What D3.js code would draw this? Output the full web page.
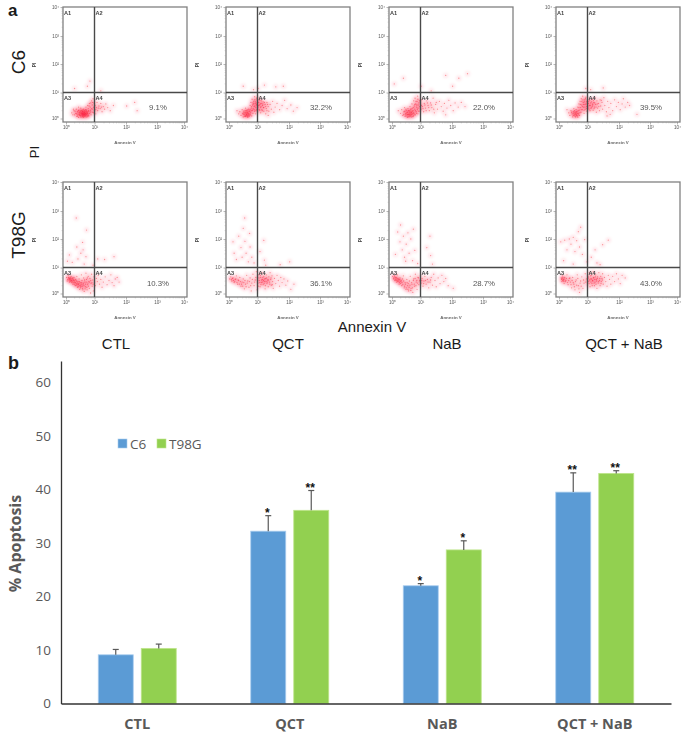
<!DOCTYPE html>
<html>
<head>
<meta charset="utf-8">
<script src="https://cdn.jsdelivr.net/npm/d3@7"></script>
<style>
  html, body { margin: 0; background: #fff; }
  svg { display: block; }
  text { font-family: "Liberation Sans", Arial, sans-serif; }
  .bar-chart text { font-family: "Open Sans", sans-serif; }
</style>
</head>
<body>
<script>
var w = 685, h = 736;

// panel b
var groups = ["CTL", "QCT", "NaB", "QCT + NaB"];
var seriesNames = ["C6", "T98G"];
var c6Values = [9.1, 32.2, 22.0, 39.5];
var t98gValues = [10.3, 36.1, 28.7, 43.0];
var c6Errors = [1.0, 2.9, 0.4, 3.6];
var t98gErrors = [0.8, 3.7, 1.7, 0.5];
var c6Stars = ["", "*", "*", "**"];
var t98gStars = ["", "**", "*", "**"];
var yTicks = [0, 10, 20, 30, 40, 50, 60];

// panel a, events as [log10 annexin, log10 PI]
var c6Ctl = [[.2,.22],[.28,.3],[.3,.14],[.34,.2],[.36,.36],[.38,.08],[.4,.26],[.42,.16],[.44,.04],[.45,.32],[.46,.22],[.48,.12],[.5,.18],[.5,.28],[.52,.06],[.52,.4],[.54,.22],[.55,.14],[.56,.3],[.58,.1],[.58,.2],[.6,.16],[.6,.26],[.62,.04],[.62,.36],[.63,.12],[.64,.22],[.65,.18],[.66,.08],[.67,.28],[.68,.14],[.7,.2],[.7,.44],[.71,.06],[.72,.32],[.74,.12],[.74,.24],[.76,.5],[.77,.18],[.78,.38],[.8,.1],[.8,.28],[.82,.58],[.83,.2],[.85,.44],[.86,.32],[.88,.14],[.9,.68],[.9,.38],[.92,.52],[.94,.24],[.95,.76],[.96,.42],[.98,.6],[1,.32],[1.02,.5],[1.04,.18],[1.06,.42],[1.08,.62],[1.1,.3],[1.14,.48],[1.18,.38],[1.2,.58],[1.24,.26],[1.28,.46],[1.32,.36],[1.36,.56],[1.42,.42],[1.5,.3],[1.6,.5],[2.02,.48],[2.28,.62],[2.36,.3],[.3,1.14],[.75,1.22],[.84,1.4],[1.2,1.06]];
var c6Qct = [[.28,.3],[.34,.18],[.38,.26],[.42,.12],[.46,.34],[.48,.2],[.5,.06],[.52,.28],[.54,.14],[.56,.22],[.58,.4],[.58,.08],[.6,.18],[.62,.3],[.63,.12],[.65,.24],[.66,.04],[.68,.16],[.69,.36],[.7,.2],[.71,.09],[.73,.28],[.74,.5],[.75,.14],[.76,.22],[.77,.62],[.78,.4],[.8,.3],[.8,.1],[.81,.74],[.83,.52],[.84,.2],[.85,.38],[.87,.66],[.88,.46],[.9,.28],[.9,.84],[.92,.58],[.93,.18],[.94,.42],[.95,.72],[.96,.34],[.98,.6],[.98,.5],[1,.26],[1,.8],[1.02,.44],[1.04,.62],[1.05,.34],[1.06,.52],[1.08,.7],[1.1,.22],[1.1,.42],[1.12,.58],[1.14,.34],[1.16,.5],[1.18,.64],[1.2,.28],[1.2,.42],[1.24,.54],[1.26,.18],[1.28,.38],[1.3,.62],[1.34,.46],[1.36,.28],[1.4,.54],[1.44,.36],[1.48,.66],[1.52,.24],[1.56,.44],[1.62,.58],[1.7,.34],[1.78,.5],[1.86,.7],[1.94,.38],[2.06,.52],[2.14,.28],[2.26,.42],[1.34,.12],[.5,1.22],[1.22,1.26],[1.58,1.2],[1.82,1.22],[.86,1.1],[1.02,1.14]];
var c6Nab = [[.22,.3],[.3,.2],[.34,.34],[.38,.12],[.42,.26],[.44,.42],[.46,.08],[.48,.2],[.5,.3],[.52,.14],[.54,.04],[.55,.24],[.56,.38],[.58,.16],[.6,.1],[.6,.3],[.62,.22],[.63,.46],[.65,.14],[.66,.34],[.68,.06],[.68,.24],[.7,.56],[.71,.18],[.72,.4],[.74,.3],[.75,.1],[.76,.68],[.77,.2],[.78,.48],[.8,.36],[.81,.78],[.82,.14],[.83,.56],[.85,.26],[.86,.44],[.88,.66],[.89,.34],[.9,.86],[.91,.18],[.92,.52],[.94,.4],[.96,.7],[.98,.28],[1,.54],[1.02,.36],[1.04,.72],[1.06,.46],[1.1,.26],[1.12,.58],[1.16,.4],[1.2,.68],[1.24,.5],[1.28,.3],[1.32,.6],[1.36,.42],[1.4,.78],[1.44,.22],[1.48,.54],[1.54,.36],[1.6,.66],[1.66,.46],[1.72,.28],[1.76,.58],[1.84,.4],[1.9,.7],[1.96,.5],[2.04,.3],[2.1,.6],[2.2,.44],[2.3,.62],[2.42,.46],[1.8,.14],[.4,1.5],[1.34,1.06],[1.8,1.6],[2.02,1.22],[2.22,1.5],[1.02,1.22],[2.5,1.66],[.08,1.3]];
var c6Both = [[.28,.34],[.34,.22],[.38,.12],[.42,.3],[.46,.18],[.48,.06],[.5,.26],[.52,.38],[.54,.14],[.56,.24],[.58,.06],[.6,.34],[.6,.16],[.63,.26],[.64,.1],[.66,.44],[.68,.2],[.7,.56],[.71,.32],[.72,.12],[.74,.66],[.76,.42],[.77,.24],[.78,.76],[.8,.52],[.82,.34],[.83,.86],[.85,.62],[.86,.44],[.88,.2],[.9,.72],[.91,.54],[.92,.36],[.94,.82],[.96,.64],[.97,.46],[.98,.28],[1,.56],[1,.74],[1.02,.4],[1.04,.66],[1.06,.5],[1.08,.3],[1.1,.6],[1.12,.42],[1.14,.74],[1.16,.52],[1.18,.32],[1.2,.62],[1.22,.44],[1.24,.8],[1.26,.54],[1.28,.24],[1.3,.68],[1.32,.4],[1.35,.58],[1.38,.3],[1.4,.72],[1.42,.48],[1.46,.62],[1.48,.36],[1.52,.8],[1.55,.5],[1.6,.26],[1.64,.66],[1.68,.42],[1.74,.58],[1.8,.3],[1.86,.72],[1.92,.46],[1.98,.62],[2.04,.34],[2.1,.56],[2.14,.76],[2.2,.44],[2.28,.62],[2.34,.5],[1.62,.1],[1.72,.16],[1.5,1.16],[1.1,1.1],[.94,1.14],[2.58,.16]];
var t98Ctl = [[.02,.62],[.04,.48],[.06,.54],[.08,.7],[.1,.58],[.12,.44],[.14,.6],[.16,.52],[.18,.66],[.2,.42],[.22,.56],[.24,.36],[.26,.5],[.28,.62],[.3,.44],[.32,.3],[.34,.54],[.36,.38],[.38,.66],[.4,.24],[.42,.46],[.44,.34],[.46,.56],[.48,.16],[.5,.42],[.52,.28],[.54,.72],[.56,.5],[.58,.2],[.6,.36],[.62,.6],[.64,.08],[.66,.44],[.68,.26],[.7,.78],[.72,.54],[.74,.14],[.76,.34],[.78,.66],[.8,.46],[.82,.2],[.84,.58],[.86,.02],[.88,.38],[.9,.74],[.92,.28],[.94,.52],[.96,.1],[.98,.64],[1,.42],[1.03,.3],[1.06,.58],[1.09,.46],[1.12,.7],[1.16,.36],[1.2,.54],[1.24,.24],[1.28,.44],[1.34,.64],[1.4,.34],[1.46,.5],[1.52,.72],[1.56,.42],[1.62,.3],[1.66,.56],[1.72,.62],[1.78,.44],[.12,1.44],[.22,1.18],[.38,1.72],[.42,1.3],[.52,1.5],[.58,1.88],[.6,1.62],[.7,1.38],[.64,1.12],[.36,2.75],[.72,2.32],[1.32,1.28],[1.62,1.38],[1.1,1.3],[.95,1.08],[.05,1.22]];
var t98Qct = [[.02,.56],[.06,.64],[.1,.48],[.14,.6],[.18,.42],[.22,.54],[.26,.68],[.3,.36],[.34,.5],[.38,.62],[.42,.28],[.46,.44],[.5,.56],[.54,.18],[.58,.36],[.62,.7],[.66,.48],[.7,.24],[.74,.6],[.78,.1],[.8,.4],[.84,.74],[.88,.3],[.92,.52],[.96,.84],[.98,.14],[1,.62],[1.02,.4],[1.04,.72],[1.06,.5],[1.08,.26],[1.1,.62],[1.12,.42],[1.14,.8],[1.16,.54],[1.18,.34],[1.2,.66],[1.22,.46],[1.24,.18],[1.26,.58],[1.28,.72],[1.3,.38],[1.32,.52],[1.34,.26],[1.36,.64],[1.38,.44],[1.4,.8],[1.42,.54],[1.44,.32],[1.46,.68],[1.48,.46],[1.5,.2],[1.54,.58],[1.58,.38],[1.62,.7],[1.66,.5],[1.7,.28],[1.74,.62],[1.78,.42],[1.84,.56],[1.9,.32],[1.96,.48],[2.06,.16],[2.16,.36],[.14,1.9],[.18,1.5],[.26,1.28],[.34,2.1],[.42,1.7],[.46,1.36],[.5,2.38],[.56,1.92],[.6,1.5],[.68,1.2],[.72,2.2],[.74,1.72],[.8,1.36],[.88,1.16],[.55,2.75],[1.08,1.56],[1.22,1.26],[1.26,1.08],[1.2,1.95],[1.72,1.1],[2.02,1.2]];
var t98Nab = [[.02,.66],[.05,.56],[.08,.7],[.1,.5],[.13,.62],[.16,.44],[.19,.72],[.22,.54],[.25,.36],[.28,.6],[.31,.46],[.34,.3],[.37,.56],[.4,.68],[.43,.22],[.46,.42],[.49,.16],[.52,.54],[.55,.3],[.58,.1],[.61,.48],[.64,.66],[.67,.2],[.7,.36],[.73,.04],[.76,.56],[.79,.28],[.82,.74],[.85,.44],[.88,.16],[.91,.62],[.94,.34],[.97,.5],[1,.7],[1.02,.4],[1.05,.58],[1.08,.28],[1.11,.48],[1.14,.66],[1.18,.36],[1.22,.54],[1.26,.22],[1.3,.44],[1.34,.62],[1.38,.32],[1.42,.74],[1.46,.5],[1.5,.26],[1.56,.6],[1.62,.38],[1.68,.7],[1.74,.46],[1.8,.58],[1.88,.3],[.2,2.25],[.28,1.9],[.3,2.5],[.36,1.62],[.4,2.1],[.44,1.36],[.5,1.82],[.56,2.22],[.6,1.5],[.66,2],[.72,1.24],[.8,1.6],[.9,1.14],[1.3,2.1],[1.32,1.42],[1.38,1.12],[1.2,1.7],[.75,2.35],[.48,1.22],[.12,1.46],[2.04,.2]];
var t98Both = [[.08,.6],[.1,.46],[.12,.68],[.15,.54],[.18,.38],[.2,.62],[.24,.5],[.28,.72],[.32,.34],[.36,.58],[.4,.44],[.44,.22],[.48,.62],[.52,.36],[.56,.14],[.6,.52],[.64,.72],[.68,.3],[.72,.04],[.76,.48],[.8,.64],[.84,.2],[.88,.4],[.92,.76],[.96,.56],[1,.32],[1.02,.66],[1.04,.46],[1.06,.8],[1.08,.26],[1.1,.56],[1.12,.7],[1.14,.38],[1.16,.5],[1.18,.84],[1.2,.62],[1.22,.3],[1.24,.44],[1.26,.72],[1.28,.54],[1.3,.2],[1.32,.64],[1.34,.4],[1.36,.8],[1.38,.5],[1.4,.3],[1.42,.66],[1.44,.46],[1.46,.58],[1.48,.76],[1.5,.36],[1.54,.62],[1.58,.46],[1.62,.28],[1.66,.7],[1.7,.54],[1.74,.36],[1.8,.66],[1.86,.46],[1.92,.76],[1.98,.56],[2.04,.38],[2.1,.7],[2.2,.6],[.06,1.9],[.2,1.96],[.28,1.62],[.36,2],[.42,1.82],[.5,2.06],[.56,1.56],[.62,1.94],[.68,2.26],[.72,1.72],[.76,2.42],[.82,1.46],[.9,1.98],[.98,1.2],[1.12,1.36],[1.24,1.62],[1.3,1.16],[1.4,1.1],[1.48,1.8],[1.66,1.96],[.16,1.24],[.5,1.12]];

// the thick middle of each cloud
var c6CtlCore = [[.37,.18],[.41,.1],[.43,.3],[.47,.16],[.49,.24],[.51,.11],[.53,.32],[.55,.19],[.57,.06],[.57,.26],[.59,.14],[.59,.33],[.61,.21],[.61,.09],[.64,.16],[.64,.3],[.66,.24],[.67,.11],[.69,.19],[.69,.34],[.72,.15],[.73,.26],[.75,.2],[.76,.07],[.78,.13],[.79,.3],[.24,.14],[.32,.28],[.26,.36],[.81,.48],[.87,.25],[.92,.36],[.97,.22],[.99,.46],[1.12,.4],[1.22,.44],[.87,.6],[.93,.62],[1.04,.34],[.44,.44]];
var c6QctCore = [[.5,.16],[.52,.22],[.55,.08],[.57,.3],[.59,.12],[.6,.24],[.62,.16],[.64,.08],[.64,.33],[.66,.2],[.68,.1],[.7,.28],[.72,.14],[.74,.34],[.86,.56],[.88,.34],[.89,.72],[.91,.48],[.93,.64],[.95,.3],[.96,.54],[.97,.78],[.99,.4],[1.01,.62],[1.03,.5],[1.05,.72],[1.07,.32],[1.09,.56],[1.11,.46],[1.13,.68],[1.15,.3],[1.17,.56],[1.19,.42],[1.22,.62],[1.26,.46],[1.3,.3],[1.32,.54],[.79,.46],[.82,.32],[.84,.6]];
var c6NabCore = [[.41,.16],[.45,.28],[.47,.14],[.49,.36],[.51,.22],[.53,.09],[.55,.16],[.57,.3],[.59,.06],[.61,.15],[.63,.28],[.64,.09],[.66,.21],[.67,.38],[.69,.14],[.71,.28],[.73,.07],[.75,.22],[.76,.42],[.78,.14],[.8,.54],[.82,.3],[.84,.66],[.86,.2],[.87,.52],[.89,.4],[.91,.74],[.93,.28],[.94,.6],[.96,.46],[.98,.64],[1.03,.5],[1.08,.38],[1.14,.52],[1.18,.3],[1.22,.6],[1.26,.42],[1.34,.52],[1.42,.36],[1.5,.62]];
var c6BothCore = [[.44,.24],[.5,.12],[.52,.2],[.54,.3],[.56,.1],[.58,.18],[.6,.25],[.62,.12],[.64,.19],[.66,.05],[.67,.3],[.69,.14],[.7,.42],[.73,.22],[.75,.54],[.78,.34],[.8,.66],[.82,.46],[.84,.72],[.86,.54],[.88,.32],[.89,.64],[.91,.44],[.93,.76],[.95,.56],[.97,.38],[.99,.66],[1.01,.48],[1.03,.58],[1.05,.36],[1.07,.7],[1.09,.5],[1.11,.38],[1.13,.64],[1.15,.46],[1.17,.56],[1.19,.7],[1.21,.38],[1.23,.6],[1.27,.44],[1.31,.56],[1.36,.46],[1.44,.7]];
var t98CtlCore = [[.09,.62],[.11,.52],[.13,.56],[.15,.46],[.17,.6],[.19,.5],[.21,.47],[.23,.6],[.25,.42],[.27,.55],[.29,.36],[.31,.5],[.33,.42],[.35,.32],[.37,.48],[.39,.34],[.41,.4],[.43,.26],[.45,.38],[.47,.46],[.49,.3],[.51,.22],[.53,.36],[.55,.42],[.57,.28],[.59,.14],[.61,.4],[.63,.3],[.65,.52],[.67,.18],[.69,.36],[.71,.44],[.73,.24],[.75,.6],[.77,.4],[.79,.28],[.83,.44],[.87,.5],[.91,.42],[.95,.36]];
var t98QctCore = [[.08,.54],[.12,.58],[.16,.5],[.2,.46],[.24,.56],[.28,.42],[.32,.52],[.36,.36],[.4,.46],[.44,.36],[.48,.28],[.52,.42],[.56,.5],[.6,.26],[.64,.4],[.72,.46],[.76,.3],[.82,.54],[.9,.44],[.94,.62],[1.01,.5],[1.03,.28],[1.05,.6],[1.07,.42],[1.09,.7],[1.11,.34],[1.13,.52],[1.15,.44],[1.17,.62],[1.19,.5],[1.21,.38],[1.23,.56],[1.25,.3],[1.27,.46],[1.29,.6],[1.31,.44],[1.35,.52],[1.39,.36],[1.43,.6],[1.47,.34]];
var t98NabCore = [[.06,.6],[.09,.64],[.11,.56],[.14,.52],[.16,.6],[.18,.5],[.2,.46],[.21,.58],[.24,.48],[.26,.42],[.27,.54],[.3,.38],[.32,.5],[.35,.42],[.38,.34],[.41,.48],[.44,.28],[.47,.36],[.5,.22],[.53,.42],[.56,.16],[.57,.38],[.6,.24],[.63,.32],[.66,.12],[.69,.42],[.72,.22],[.75,.5],[.78,.36],[.81,.58],[.84,.3],[.87,.5],[.9,.4],[.93,.6],[.99,.46],[1.04,.5],[1.1,.38],[1.16,.5],[1.24,.44],[1.32,.52]];
var t98BothCore = [[.09,.54],[.11,.58],[.13,.5],[.14,.62],[.16,.48],[.18,.56],[.22,.46],[.26,.58],[.3,.42],[.34,.5],[.38,.6],[.42,.34],[.46,.5],[.5,.42],[.54,.26],[.58,.46],[.62,.32],[.66,.58],[.7,.18],[.74,.4],[.78,.28],[.86,.52],[.94,.44],[1.01,.48],[1.03,.6],[1.05,.38],[1.07,.52],[1.09,.68],[1.11,.44],[1.13,.56],[1.15,.3],[1.17,.48],[1.19,.6],[1.21,.4],[1.23,.54],[1.25,.64],[1.27,.36],[1.29,.48],[1.31,.58],[1.35,.46],[1.39,.58],[1.43,.38],[1.47,.52]];

var rowNames = ["C6", "T98G"];
var flowEvents = [
    [c6Ctl.concat(c6CtlCore), c6Qct.concat(c6QctCore), c6Nab.concat(c6NabCore), c6Both.concat(c6BothCore)],
    [t98Ctl.concat(t98CtlCore), t98Qct.concat(t98QctCore), t98Nab.concat(t98NabCore), t98Both.concat(t98BothCore)]
];
var flowPercents = [["9.1%", "32.2%", "22.0%", "39.5%"], ["10.3%", "36.1%", "28.7%", "43.0%"]];
var quadrantNames = ["A1", "A2", "A3", "A4"];
var decades = [0, 1, 2, 3, 4];
var decadeLabels = ["10\u2070", "10\u00B9", "10\u00B2", "10\u00B3", "10\u2074"];

var svg = d3.select("body").append("svg")
    .attr("width", w)
    .attr("height", h);

// the flow plots are soft in the source image
var defs = svg.append("defs");
defs.append("filter").attr("id", "soft")
    .attr("x", "-10%").attr("y", "-10%").attr("width", "120%").attr("height", "120%")
  .append("feGaussianBlur").attr("stdDeviation", 0.4);
defs.append("filter").attr("id", "glow")
    .attr("x", "-10%").attr("y", "-10%").attr("width", "120%").attr("height", "120%")
  .append("feGaussianBlur").attr("stdDeviation", 1.8);

var panelA = svg.append("g").attr("class", "flow");

var panelLeft = [63, 226, 389, 556];
var panelTop = [7, 182];
var panelW = 124, panelH = 115;

// minor ticks on a log axis
var minorTicks = [];
decades.slice(0, 4).forEach(function(d) {
    d3.range(2, 10).forEach(function(m) {
        minorTicks.push(d + Math.log10(m));
    });
});

flowEvents.forEach(function(row, r) {
    row.forEach(function(events, c) {
        var g = panelA.append("g")
            .attr("transform", "translate(" + panelLeft[c] + "," + panelTop[r] + ")")
            .attr("filter", "url(#soft)");

        // axes are a bit uneven in the source, so map each decade
        var x = d3.scaleLinear().domain(decades).range([3, 31.5, 63, 94, 121]);
        var y = d3.scaleLinear().domain(decades).range([111.5, 85.5, 57, 29, 0]);

        // density haze under the dots
        g.append("g").attr("filter", "url(#glow)")
          .selectAll("circle")
          .data(events)
          .enter()
          .append("circle")
            .attr("cx", function(d) { return x(d[0]); })
            .attr("cy", function(d) { return y(d[1]); })
            .attr("r", 2.2)
            .style("fill", "#ff2440")
            .style("fill-opacity", 0.15);

        g.append("g")
          .selectAll("circle")
          .data(events)
          .enter()
          .append("circle")
            .attr("cx", function(d) { return x(d[0]); })
            .attr("cy", function(d) { return y(d[1]); })
            .attr("r", 0.65)
            .style("fill", "#f5142e")
            .style("fill-opacity", 0.42);

        g.append("rect")
            .attr("width", panelW)
            .attr("height", panelH)
            .style("fill", "none")
            .style("stroke", "#808080")
            .style("stroke-width", 1.3);

        g.append("line")
            .attr("x1", x(1)).attr("x2", x(1))
            .attr("y1", 0).attr("y2", panelH)
            .style("stroke", "#4a4a4a")
            .style("stroke-width", 1.4);
        g.append("line")
            .attr("x1", 0).attr("x2", panelW)
            .attr("y1", y(1)).attr("y2", y(1))
            .style("stroke", "#4a4a4a")
            .style("stroke-width", 1.4);

        // log ticks
        [[d3.axisBottom(x), panelH, "x"], [d3.axisLeft(y), 0, "y"]].forEach(function(a) {
            var axisG = g.append("g")
                .attr("transform", a[2] == "x" ? "translate(0," + panelH + ")" : "translate(0,0)")
                .call(a[0].tickValues(decades).tickSize(2.5).tickPadding(1.5)
                    .tickFormat(function(d, i) { return decadeLabels[i]; }));
            axisG.select(".domain").remove();
            axisG.selectAll("line").style("stroke", "#888").style("stroke-width", 0.6);
            axisG.selectAll("text")
                .style("font-size", "4.6px")
                .style("fill", "#555");
            var scale = a[2] == "x" ? x : y;
            axisG.selectAll(".minor")
                .data(minorTicks)
                .enter()
                .append("line")
                .attr("class", "minor")
                .attr(a[2] == "x" ? "x1" : "y1", scale)
                .attr(a[2] == "x" ? "x2" : "y2", scale)
                .attr(a[2] == "x" ? "y2" : "x2", a[2] == "x" ? 1.4 : -1.4)
                .style("stroke", "#999")
                .style("stroke-width", 0.4);
        });

        // quadrant names
        var quadX = [1, x(1) + 1, 1, x(1) + 1];
        var quadY = [8, 8, y(1) + 7.5, y(1) + 7.5];
        g.selectAll(".quad")
            .data(quadrantNames)
            .enter()
            .append("text")
            .attr("class", "quad")
            .attr("x", function(d, i) { return quadX[i]; })
            .attr("y", function(d, i) { return quadY[i]; })
            .style("font-size", "5.6px")
            .style("font-weight", "bold")
            .style("fill", "#444")
            .text(function(d) { return d; });

        g.append("text")
            .attr("x", 95)
            .attr("y", r == 0 ? 103 : 104)
            .attr("text-anchor", "middle")
            .style("font-size", "7.8px")
            .style("fill", "#555")
            .text(flowPercents[r][c]);

        g.append("text")
            .attr("x", 62)
            .attr("y", 137)
            .attr("text-anchor", "middle")
            .style("font-size", "4.4px")
            .style("font-weight", "bold")
            .style("fill", "#666")
            .text("Annexin V");

        g.append("text")
            .attr("transform", "translate(-27,58) rotate(-90)")
            .attr("text-anchor", "middle")
            .style("font-size", "4.8px")
            .style("font-weight", "bold")
            .style("fill", "#444")
            .text("PI");
    });
});

var outer = svg.append("g").style("fill", "#1a1a1a");

outer.append("text").attr("x", 8).attr("y", 15.5)
    .style("font-size", "17px").style("font-weight", "bold").text("a");
outer.append("text").attr("x", 8).attr("y", 369)
    .style("font-size", "18px").style("font-weight", "bold").text("b");

outer.selectAll(".rowName")
    .data(rowNames)
    .enter()
    .append("text")
    .attr("class", "rowName")
    .attr("text-anchor", "middle")
    .attr("transform", function(d, i) {
        return "translate(" + 25 + "," + [62, 235][i] + ") rotate(-90)";
    })
    .style("font-size", "19px")
    .text(function(d) { return d; });

outer.append("text")
    .attr("transform", "translate(39,152) rotate(-90)")
    .attr("text-anchor", "middle")
    .style("font-size", "13px")
    .text("PI");

outer.append("text")
    .attr("x", 372).attr("y", 332)
    .attr("text-anchor", "middle")
    .style("font-size", "15px")
    .text("Annexin V");

var columnCenter = [116, 288, 447, 624];
outer.selectAll(".colName")
    .data(groups)
    .enter()
    .append("text")
    .attr("class", "colName")
    .attr("x", function(d, i) { return columnCenter[i]; })
    .attr("y", 349)
    .attr("text-anchor", "middle")
    .style("font-size", "15px")
    .text(function(d) { return d; });

// panel b
var barChart = svg.append("g").attr("class", "bar-chart");

var x0 = d3.scaleBand().domain(groups).range([61, 671]);
var yBar = d3.scaleLinear().domain([0, 64]).range([703.5, 361]);
var color = d3.scaleOrdinal().domain(seriesNames).range(["#5B9BD5", "#92D050"]);
var edge = d3.scaleOrdinal().domain(seriesNames).range(["#a9cdee", "#bfe58c"]);

var barData = [];
groups.forEach(function(g, i) {
    barData.push({ group: g, series: "C6", value: c6Values[i], err: c6Errors[i], star: c6Stars[i] });
    barData.push({ group: g, series: "T98G", value: t98gValues[i], err: t98gErrors[i], star: t98gStars[i] });
});

function barLeft(d) {
    return x0(d.group) + x0.bandwidth() / 2 + (d.series == "C6" ? -39 : 4);
}
var barW = 35;

barChart.selectAll(".bar")
    .data(barData)
    .enter()
    .append("rect")
    .attr("class", "bar")
    .attr("x", barLeft)
    .attr("y", function(d) { return yBar(d.value); })
    .attr("width", barW)
    .attr("height", function(d) { return yBar(0) - yBar(d.value); })
    .style("fill", function(d) { return color(d.series); })
    .style("stroke", function(d) { return edge(d.series); })
    .style("stroke-width", 0.8);

barChart.selectAll(".errLine")
    .data(barData)
    .enter()
    .append("line")
    .attr("class", "errLine")
    .attr("x1", function(d) { return barLeft(d) + barW / 2; })
    .attr("x2", function(d) { return barLeft(d) + barW / 2; })
    .attr("y1", function(d) { return yBar(d.value); })
    .attr("y2", function(d) { return yBar(d.value + d.err); })
    .style("stroke", "#595959")
    .style("stroke-width", 1.2);

barChart.selectAll(".errCap")
    .data(barData)
    .enter()
    .append("line")
    .attr("class", "errCap")
    .attr("x1", function(d) { return barLeft(d) + barW / 2 - 3; })
    .attr("x2", function(d) { return barLeft(d) + barW / 2 + 3; })
    .attr("y1", function(d) { return yBar(d.value + d.err); })
    .attr("y2", function(d) { return yBar(d.value + d.err); })
    .style("stroke", "#595959")
    .style("stroke-width", 1.2);

barChart.selectAll(".star")
    .data(barData.filter(function(d) { return d.star != ""; }))
    .enter()
    .append("text")
    .attr("class", "star")
    .attr("x", function(d) { return barLeft(d) + barW / 2 - 1; })
    .attr("y", function(d) { return yBar(d.value + d.err) + 1; })
    .attr("text-anchor", "middle")
    .style("font-family", "'Liberation Sans', Arial, sans-serif")
    .style("font-size", "12px")
    .style("font-weight", "bold")
    .style("fill", "#111")
    .text(function(d) { return d.star; });

var yAxis = d3.axisLeft(yBar).tickValues(yTicks).tickSize(0).tickPadding(10);
var yG = barChart.append("g")
    .attr("transform", "translate(61,0)")
    .call(yAxis);
yG.select(".domain").style("stroke", "#333").style("stroke-width", 1.3);
yG.selectAll("text").style("font-size", "13.5px").style("fill", "#595959");

var xAxis = d3.axisBottom(x0).tickSize(0).tickPadding(15);
var xG = barChart.append("g")
    .attr("transform", "translate(0,703.5)")
    .call(xAxis);
xG.select(".domain").style("stroke", "#333").style("stroke-width", 1.3);
xG.selectAll("text")
    .style("font-size", "14.5px")
    .style("font-weight", "bold")
    .style("fill", "#595959");

barChart.append("text")
    .attr("transform", "translate(21,543.5) rotate(-90)")
    .attr("text-anchor", "middle")
    .style("font-size", "16px")
    .style("font-weight", "bold")
    .style("fill", "#595959")
    .text("% Apoptosis");

// legend
var legendX = [118, 157];
seriesNames.forEach(function(name, i) {
    barChart.append("rect")
        .attr("x", legendX[i]).attr("y", 439)
        .attr("width", 9).attr("height", 9)
        .style("fill", color(name))
        .style("stroke", edge(name))
        .style("stroke-width", 0.6);
    barChart.append("text")
        .attr("x", legendX[i] + 12).attr("y", 448.5)
        .style("font-size", "13.5px")
        .style("fill", "#595959")
        .text(name);
});
</script>
</body>
</html>
